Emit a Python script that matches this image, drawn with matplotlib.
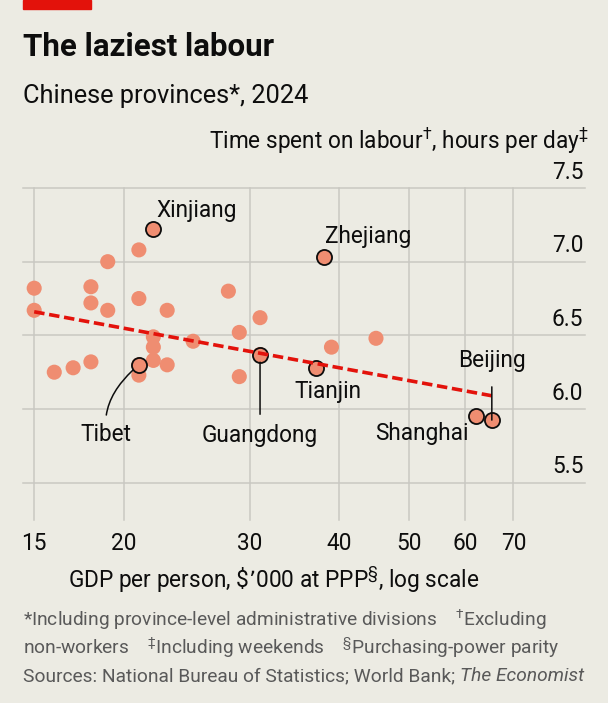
import numpy as np
import matplotlib
matplotlib.use("Agg")
import matplotlib.pyplot as plt
from matplotlib import transforms

plt.rcParams['font.family'] = ['Roboto', 'DejaVu Sans']
plt.rcParams['mathtext.default'] = 'regular'

# 数据: GDP per person ($'000, PPP) 与 每日劳动时间
gdp = [22.0, 21.0, 19.0, 38.1, 15.0, 15.0, 18.0, 18.0, 19.0, 21.0,
       23.0, 28.0, 31.0, 29.0, 45.0, 39.0, 22.0, 22.0, 25.0, 31.0,
       37.1, 21.0, 22.0, 23.0, 21.0, 18.0, 17.0, 16.0, 29.0, 62.1, 65.3]
hours = [7.22, 7.08, 7.00, 7.03, 6.82, 6.67, 6.83, 6.72, 6.67, 6.75,
         6.67, 6.80, 6.62, 6.52, 6.48, 6.42, 6.49, 6.42, 6.46, 6.37,
         6.28, 6.30, 6.33, 6.30, 6.23, 6.32, 6.28, 6.25, 6.22, 5.95, 5.925]
names = ["Xinjiang", "", "", "Zhejiang", "", "", "", "", "", "",
         "", "", "", "", "", "", "", "", "", "Guangdong",
         "Tianjin", "Tibet", "", "", "", "", "", "", "", "Shanghai", "Beijing"]

trend_x = [15, 65.3]
trend_y = [6.66, 6.09]

x_ticks = [15, 20, 30, 40, 50, 60, 70]
y_ticks = [5.5, 6.0, 6.5, 7.0, 7.5]

bg = '#ECEBE3'
red = '#E3120B'
dot = '#EF8D71'
grid = '#C9C8C2'
ink = '#0D0D0D'
grey = '#595959'
fs = 16.3

fig = plt.figure(figsize=(6.08, 7.03), dpi=100, facecolor=bg)
ax = fig.add_axes([23/608, 1 - 520/703, (585-23)/608, (520-188)/703])
ax.set_facecolor(bg)
ax.set_xscale('log')
ax.set_xlim(14.47, 88.1)
ax.set_ylim(5.247, 7.5)

# 网格线
for v in y_ticks:
    ax.plot([0, 1], [v, v], transform=ax.get_yaxis_transform(), color=grid, lw=1.1, zorder=0, clip_on=False)
for v in x_ticks:
    ax.plot([v, v], [0, 1], transform=ax.get_xaxis_transform(), color=grid, lw=1.1, zorder=0, clip_on=False)

for s in ax.spines.values():
    s.set_visible(False)
ax.set_yticks([])
ax.set_xticks(x_ticks)
ax.set_xticklabels([str(t) for t in x_ticks], fontsize=fs, color=ink)
ax.xaxis.set_minor_locator(matplotlib.ticker.NullLocator())
ax.tick_params(axis='x', length=0, pad=9)

# y 轴标签 (右侧, 在网格线上方)
lab_tr = transforms.offset_copy(ax.get_yaxis_transform(), fig=fig, x=0, y=11.5, units='points')
for v in y_ticks:
    ax.text(0.997, v, f"{v:.1f}", transform=lab_tr, ha='right', va='center', fontsize=fs, color=ink)

# 散点
ax.scatter(gdp, hours, s=118, color=dot, edgecolor='none', zorder=3)
hl = [i for i, n in enumerate(names) if n]
ax.scatter([gdp[i] for i in hl], [hours[i] for i in hl], s=118, color=dot,
           edgecolor=ink, linewidth=1.3, zorder=4)

# 趋势线
ax.plot(trend_x, trend_y, color=red, lw=2.6, dashes=[2.9, 1.3], zorder=5)

# 标注
lbl = dict(fontsize=fs, color=ink, zorder=6)
ax.annotate("Xinjiang", (gdp[0], hours[0]), xytext=(2.5, 13.7), textcoords='offset points', ha='left', va='center', **lbl)
ax.annotate("Zhejiang", (gdp[3], hours[3]), xytext=(0.7, 15), textcoords='offset points', ha='left', va='center', **lbl)
ax.annotate("Tianjin", (gdp[20], hours[20]), xytext=(8.7, -16.8), textcoords='offset points', ha='center', va='center', **lbl)
ax.annotate("Shanghai", (gdp[29], hours[29]), xytext=(-5.6, -12), textcoords='offset points', ha='right', va='center', **lbl)
ax.annotate("Guangdong", (gdp[19], hours[19]), xytext=(0, -58.3), textcoords='offset points', ha='center', va='center',
            arrowprops=dict(arrowstyle='-', color=ink, lw=1.1, relpos=(0.5, 1), shrinkA=5, shrinkB=5.5), **lbl)
ax.annotate("Beijing", (gdp[30], hours[30]), xytext=(0, 43.2), textcoords='offset points', ha='center', va='center',
            arrowprops=dict(arrowstyle='-', color=ink, lw=1.1, relpos=(0.5, 0), shrinkA=9, shrinkB=0), **lbl)
ax.annotate("Tibet", (gdp[21], hours[21]), xytext=(-23.9, -50.4), textcoords='offset points', ha='center', va='center',
            arrowprops=dict(arrowstyle='-', color=ink, lw=1.1, relpos=(0.5, 1), shrinkA=4, shrinkB=5.5,
                            connectionstyle='angle3,angleA=90,angleB=40'), **lbl)

# 标题等
fig.patches.append(plt.Rectangle((23/608, 1 - 9/703), 68/608, 9/703, transform=fig.transFigure, color=red))
fig.text(23/608, 1 - 47/703, "The laziest labour", fontsize=22.5, fontweight='bold', color=ink, va='center', ha='left')
fig.text(23/608, 1 - 96/703, "Chinese provinces*, 2024", fontsize=18.3, color=ink, va='center', ha='left')
fig.text(589/608, 1 - 141/703, r"Time spent on labour$^{†}$, hours per day$^{‡}$", fontsize=fs, color=ink, va='center', ha='right')
fig.text(274/608, 1 - 580/703, r"GDP per person, \$’000 at PPP$^{§}$, log scale", fontsize=fs, color=ink, va='center', ha='center')

fn = dict(fontsize=13.8, color=grey, va='center', ha='left')
fig.text(23/608, 1 - 620/703, r"*Including province-level administrative divisions    $^{†}$Excluding", **fn)
fig.text(23/608, 1 - 648/703, r"non-workers    $^{‡}$Including weekends    $^{§}$Purchasing-power parity", **fn)
src = fig.text(23/608, 1 - 676/703, "Sources: National Bureau of Statistics; World Bank; ", **fn)
fig.canvas.draw()
bb = src.get_window_extent()
fig.text(bb.x1 / fig.bbox.width, 1 - 676/703, "The Economist", style='italic', **{k: v for k, v in fn.items() if k != 'ha'}, ha='left')

fig.savefig("out.png", dpi=100, facecolor=bg)
